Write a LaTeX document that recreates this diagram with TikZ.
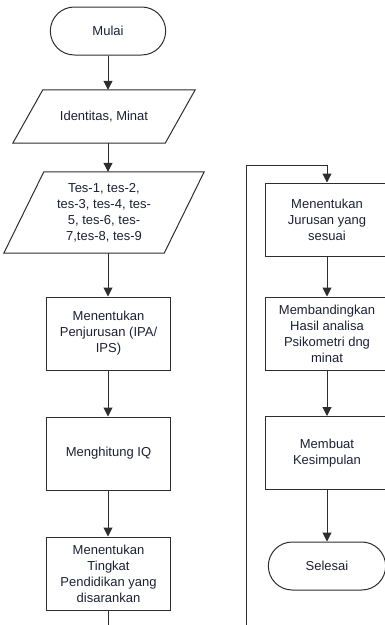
\documentclass[tikz,border=0pt]{standalone}
\usepackage{fontspec}
\setmainfont{Liberation Sans}
\usetikzlibrary{arrows.meta,shapes.misc}
\definecolor{txtcol}{RGB}{28,32,52}
\definecolor{garis}{RGB}{45,45,45}

\begin{document}
\begin{tikzpicture}[x=1pt, y=-1pt,
	every node/.style={font=\fontsize{13}{16}\selectfont, text=txtcol, align=center},
	proses/.style={draw=garis, line width=1pt, rectangle, minimum width=124, minimum height=73, inner sep=1pt},
	terminal/.style={draw=garis, line width=1pt, rounded rectangle, minimum width=122, minimum height=48},
	datain/.style={rectangle, minimum width=152, inner sep=1pt},
	panah/.style={garis, line width=1pt, -{Triangle[width=9pt,length=9pt]}}]
\useasboundingbox (0,0) rectangle (384,625);

% kolom kiri
\node[terminal] (mulai) at (108,31) {Mulai};
\node[datain, minimum height=53] (identitas) at (104,116.5) {Identitas, Minat};
\node[datain, minimum width=160, minimum height=81] (tes) at (104,212.5) {Tes-1, tes-2,\\tes-3, tes-4, tes-\\5, tes-6, tes-\\7,tes-8, tes-9};
\node[proses] (penjurusan) at (108.5,333.5) {Menentukan\\Penjurusan (IPA/\\IPS)};
\node[proses] (iq) at (108.5,453.5) {Menghitung IQ};
\node[proses] (tingkat) at (108.5,573.5) {Menentukan\\Tingkat\\Pendidikan yang\\disarankan};

% jajar genjang
\draw[garis, line width=1pt] ([xshift=15pt]identitas.north west) -- ([xshift=15pt]identitas.north east)
	-- ([xshift=-15pt]identitas.south east) -- ([xshift=-15pt]identitas.south west) -- cycle;
\draw[garis, line width=1pt] ([xshift=20pt]tes.north west) -- ([xshift=20pt]tes.north east)
	-- ([xshift=-20pt]tes.south east) -- ([xshift=-20pt]tes.south west) -- cycle;

% kolom kanan
\node[proses] (jurusan) at (327,219.5) {Menentukan\\Jurusan yang\\sesuai};
\node[proses] (banding) at (327,333.5) {Membandingkan\\Hasil analisa\\Psikometri dng\\minat};
\node[proses] (simpulan) at (327,453) {Membuat\\Kesimpulan};
\node[terminal, minimum width=124] (selesai) at (327,566) {Selesai};

\foreach \a/\b in {mulai/identitas, identitas/tes, tes/penjurusan, penjurusan/iq, iq/tingkat}{
	\draw[panah] (\a.south -| mulai) -- (\b.north -| mulai);
}
\foreach \a/\b in {jurusan/banding, banding/simpulan, simpulan/selesai}{
	\draw[panah] (\a.south) -- (\b.north);
}

% sambungan ke kolom kanan
\coordinate (bawah) at (246,645);
\coordinate (atas) at (327,165);
\draw[panah] (tingkat.south -| mulai) |- (bawah) |- (atas) -- (jurusan.north);
\end{tikzpicture}
\end{document}
